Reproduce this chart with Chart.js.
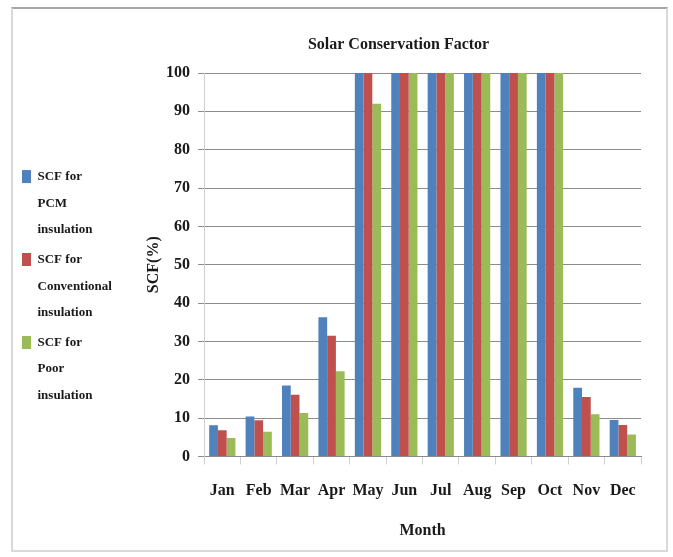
<!DOCTYPE html>
<html>
<head>
<meta charset="utf-8">
<script src="https://cdn.jsdelivr.net/npm/chart.js@4.4.1/dist/chart.umd.min.js"></script>
<style>
  html, body { margin: 0; padding: 0; background: #ffffff; }
  #wrap { position: relative; width: 673px; height: 557px; overflow: hidden; }
  #frame { position: absolute; left: 11px; top: 7px; width: 653px; height: 541px;
           border-left: 2px solid #d9d9d9; border-right: 2px solid #d9d9d9;
           border-bottom: 2px solid #d9d9d9; border-top: 2px solid #a6a6a6; }
  canvas { position: absolute; left: 0; top: 0; }
</style>
</head>
<body>
<div id="wrap">
  <div id="frame"></div>
  <canvas id="c" width="673" height="557"></canvas>
</div>
<script>
const chartTitle = 'Solar Conservation Factor';
const xAxisTitle = 'Month';
const yAxisTitle = 'SCF(%)';
const categories = ['Jan', 'Feb', 'Mar', 'Apr', 'May', 'Jun', 'Jul', 'Aug', 'Sep', 'Oct', 'Nov', 'Dec'];
const seriesNames = [
  ['SCF for', 'PCM', 'insulation'],
  ['SCF for', 'Conventional', 'insulation'],
  ['SCF for', 'Poor', 'insulation']
];
const scfPCM = [8.1, 10.4, 18.5, 36.3, 100, 100, 100, 100, 100, 100, 17.9, 9.5];
const scfConventional = [6.8, 9.4, 16.1, 31.5, 100, 100, 100, 100, 100, 100, 15.5, 8.2];
const scfPoor = [4.8, 6.4, 11.3, 22.2, 92, 100, 100, 100, 100, 100, 11.0, 5.7];
const yTickValues = [0, 10, 20, 30, 40, 50, 60, 70, 80, 90, 100];

const seriesColors = ['#4f81bd', '#c0504d', '#9bbb59'];
const serif = "'Liberation Serif', 'Times New Roman', serif";
const textColor = '#1a1a1a';

const titleShift = {
  id: 'titleShift',
  afterLayout(chart) {
    const t = chart.titleBlock;
    if (t) { t.left -= 24; t.right -= 24; }
  }
};

const seriesValues = [scfPCM, scfConventional, scfPoor];

new Chart(document.getElementById('c'), {
  type: 'bar',
  data: {
    labels: categories,
    datasets: seriesValues.map((vals, i) => ({
      label: seriesNames[i].join(' '),
      data: vals,
      backgroundColor: seriesColors[i],
      borderWidth: 0,
      categoryPercentage: 0.72,
      barPercentage: 1.0
    }))
  },
  options: {
    responsive: false,
    animation: false,
    layout: { padding: { left: 19, right: 32, top: 29, bottom: 0 } },
    plugins: {
      tooltip: { enabled: false },
      title: {
        display: true,
        text: chartTitle,
        fullSize: false,
        color: textColor,
        font: { family: serif, size: 16, weight: 'bold' },
        padding: { top: 6.4, bottom: 18.4 }
      },
      legend: {
        position: 'left',
        align: 'center',
        labels: {
          boxWidth: 9,
          boxHeight: 13,
          padding: 3,
          color: textColor,
          font: { family: serif, size: 13, weight: 'bold', lineHeight: 2.05 },
          generateLabels(chart) {
            return chart.data.datasets.map((ds, i) => ({
              text: seriesNames[i],
              fillStyle: ds.backgroundColor,
              strokeStyle: ds.backgroundColor,
              lineWidth: 0,
              hidden: false,
              datasetIndex: i,
              fontColor: textColor
            }));
          }
        }
      }
    },
    scales: {
      x: {
        offset: true,
        grid: {
          offset: true,
          drawOnChartArea: false,
          drawTicks: true,
          tickLength: 8,
          color: '#d0d0d0'
        },
        border: { display: true, color: '#8c8c8c' },
        ticks: {
          padding: 17,
          maxRotation: 0,
          minRotation: 0,
          autoSkip: false,
          color: textColor,
          font: { family: serif, size: 16, weight: 'bold' }
        },
        title: {
          display: true,
          text: xAxisTitle,
          color: textColor,
          font: { family: serif, size: 16, weight: 'bold' },
          padding: { top: 3.2, bottom: 17 }
        }
      },
      y: {
        min: 0,
        max: 100,
        afterBuildTicks(scale) {
          scale.ticks = yTickValues.map(v => ({ value: v }));
        },
        grid: {
          color: '#8c8c8c',
          tickLength: 6,
          drawTicks: true
        },
        border: { display: true, color: '#d0d0d0' },
        ticks: {
          padding: 8,
          color: textColor,
          font: { family: serif, size: 16, weight: 'bold' }
        },
        title: {
          display: true,
          text: yAxisTitle,
          color: textColor,
          font: { family: serif, size: 16, weight: 'bold' },
          padding: { top: 22, bottom: -5 }
        }
      }
    }
  },
  plugins: [titleShift]
});
</script>
</body>
</html>
